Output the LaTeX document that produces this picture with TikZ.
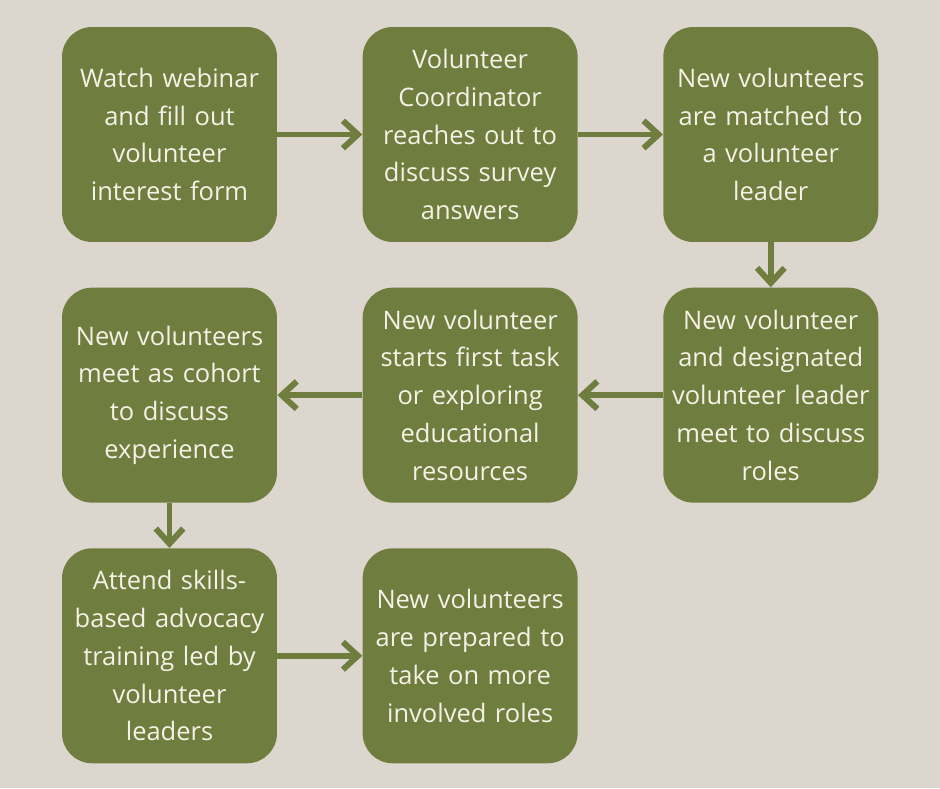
\documentclass[tikz,border=0pt]{standalone}
\usepackage{fontspec}
\setmainfont{Open Sans}
\usetikzlibrary{positioning,%
  arrows.meta,%
  calc
}
\definecolor{bgtan}{HTML}{DCD6CE}
\definecolor{olive}{HTML}{6F7D3E}
\definecolor{cream}{HTML}{F6F1E6}

\begin{document}
\begin{tikzpicture}
            [
                x=0.02cm,y=-0.02cm,
                stepbox/.style={fill=olive,rounded corners=0.6cm,
                    minimum width=4.3cm,minimum height=4.3cm,
                    text width=4.2cm,align=center,inner sep=0pt,
                    text=cream,font=\fontsize{14.5}{21.5}\selectfont},
                flow/.style={-{Straight Barb[length=0.3cm,width=0.55cm]},
                    line width=3.4pt,draw=olive},
                node distance=1.7cm and 1.7cm
            ]
            
            \fill[bgtan] (0,0) rectangle (940,788);
            
            \node[stepbox] (watch) at (169.5,134.5)
                {Watch webinar\\and fill out\\volunteer\\interest form};
            \node[stepbox,right=of watch] (coord)
                {Volunteer\\Coordinator\\reaches out to\\discuss survey\\answers};
            \node[stepbox,right=of coord] (match)
                {New volunteers\\are matched to\\a volunteer\\leader};
            \node[stepbox,below=0.9cm of match] (meet)
                {New volunteer\\and designated\\volunteer leader\\meet to discuss\\roles};
            \node[stepbox,left=of meet] (task)
                {New volunteer\\starts first task\\or exploring\\educational\\resources};
            \node[stepbox,left=of task] (cohort)
                {New volunteers\\meet as cohort\\to discuss\\experience};
            \node[stepbox,below=0.9cm of cohort] (train)
                {Attend skills-\\based advocacy\\training led by\\volunteer\\leaders};
            \node[stepbox,right=of train] (ready)
                {New volunteers\\are prepared to\\take on more\\involved roles};
            
            \draw[flow] (watch) -- (coord);
            \draw[flow] (coord) -- (match);
            \draw[flow] (match) -- (meet);
            \draw[flow] (meet) -- (task);
            \draw[flow] (task) -- (cohort);
            \draw[flow] (cohort) -- (train);
            \draw[flow] (train) -- (ready);
        \end{tikzpicture}
\end{document}
